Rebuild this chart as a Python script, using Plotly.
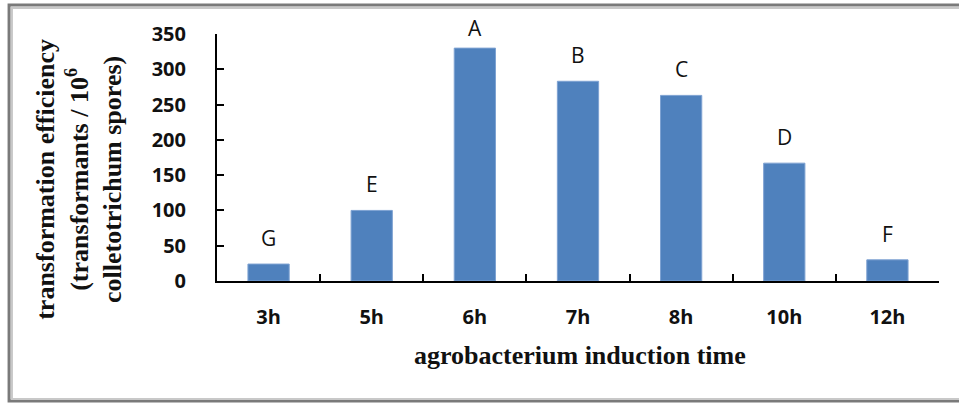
import plotly.graph_objects as go

# Induction times and measured transformation efficiency
times = ["3h", "5h", "6h", "7h", "8h", "10h", "12h"]
efficiency = [24, 100, 330, 283, 263, 167, 30]
groups = ["G", "E", "A", "B", "C", "D", "F"]

y_ticks = [0, 50, 100, 150, 200, 250, 300, 350]
y_max = 350

bar_color = "#4f81bd"
sans = "Open Sans, Noto Sans, sans-serif"
serif = "Liberation Serif, Times New Roman, serif"

plot_h = 404 - 34 - 123
px_per_unit = plot_h / y_max

fig = go.Figure(
    go.Bar(
        x=times,
        y=efficiency,
        marker=dict(color=bar_color, line=dict(color="#7ea2d2", width=1)),
        width=0.4,
    )
)

# Significance letters above each bar, kept inside the chart's top edge
for t, v, g in zip(times, efficiency, groups):
    shift = min(26, (y_max + 8 - v) * px_per_unit)
    fig.add_annotation(
        x=t, y=v, text=g, showarrow=False, yshift=shift,
        xanchor="center", yanchor="middle",
        font=dict(family=sans, size=21, color="#111111"),
    )

# Axis titles
fig.add_annotation(
    xref="paper", yref="paper", x=0.503, y=-0.30,
    text="<b>agrobacterium induction time</b>", showarrow=False,
    xanchor="center", yanchor="middle",
    font=dict(family=serif, size=26, color="#111111"),
)
fig.add_annotation(
    xref="paper", yref="paper", x=-0.19, y=0.413,
    text="<b>transformation efficiency<br>(transformants / 10<sup>6</sup><br>colletotrichum spores)</b>",
    showarrow=False, textangle=-90, xanchor="center", yanchor="middle",
    font=dict(family=serif, size=26, color="#111111"),
)

# Frame around the whole figure
fig.add_shape(
    type="rect", xref="paper", yref="paper",
    x0=-0.288, x1=1.06, y0=-0.486, y1=1.117,
    line=dict(color="#7a7a7a", width=3), layer="above",
)
fig.add_shape(
    type="rect", xref="paper", yref="paper",
    x0=-0.284, x1=1.06, y0=-0.478, y1=1.105,
    line=dict(color="#c8c8c8", width=2), layer="above",
)

fig.update_layout(
    width=959, height=404,
    margin=dict(l=217, r=20, t=34, b=123),
    paper_bgcolor="white", plot_bgcolor="white",
    showlegend=False,
    xaxis=dict(
        showline=True, linecolor="black", linewidth=2,
        ticks="inside", tickson="boundaries", ticklen=7, tickwidth=2,
        tickcolor="black", showgrid=False,
        tickfont=dict(family=sans, size=20, color="#111111", weight="bold"),
        ticklabelstandoff=17,
    ),
    yaxis=dict(
        range=[0, y_max], tickvals=y_ticks,
        showline=True, linecolor="black", linewidth=2,
        ticks="inside", ticklen=7, tickwidth=2, tickcolor="black",
        showgrid=False, zeroline=False,
        tickfont=dict(family=sans, size=20, color="#111111", weight="bold"),
        ticklabelstandoff=25,
    ),
)

fig.write_html("out.html")
